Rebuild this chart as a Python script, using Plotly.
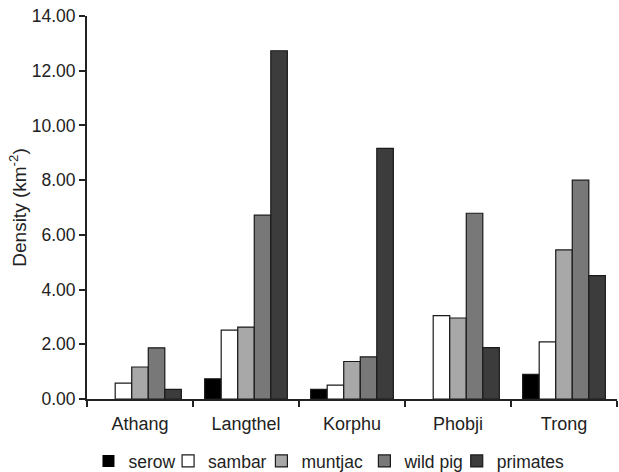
import plotly.graph_objects as go

sites = ["Athang", "Langthel", "Korphu", "Phobji", "Trong"]
serow = [0.0, 0.74, 0.35, 0.0, 0.90]
sambar = [0.58, 2.52, 0.51, 3.05, 2.09]
muntjac = [1.17, 2.63, 1.37, 2.96, 5.45]
wild_pig = [1.87, 6.72, 1.54, 6.79, 8.00]
primates = [0.35, 12.73, 9.16, 1.88, 4.51]

series = [
    ("serow", serow, "#000000"),
    ("sambar", sambar, "#ffffff"),
    ("muntjac", muntjac, "#a8a8a8"),
    ("wild pig", wild_pig, "#787878"),
    ("primates", primates, "#3c3c3c"),
]
# horizontal placement of each legend entry (paper fraction)
legend_x = [0.0028, 0.1530, 0.3291, 0.5234, 0.6976]

fig = go.Figure()
legend_ids = ["legend", "legend2", "legend3", "legend4", "legend5"]
for (name, vals, col), lid in zip(series, legend_ids):
    fig.add_trace(go.Bar(
        x=sites, y=vals, name=name, legend=lid,
        marker=dict(color=col,
                    line=dict(color="#1a1a1a", width=[1.2 if v > 0 else 0 for v in vals])),
    ))

fam = "Liberation Sans, Arial, sans-serif"
legends = {}
for lid, lx in zip(legend_ids, legend_x):
    legends[lid] = dict(orientation="h", x=lx, xanchor="left", y=-0.162, yanchor="middle",
                        itemwidth=30, font=dict(size=17.5), bgcolor="rgba(0,0,0,0)")

fig.update_layout(
    width=619, height=472,
    margin=dict(l=87, r=2, t=16, b=73, autoexpand=False),
    paper_bgcolor="white", plot_bgcolor="white",
    font=dict(family=fam, size=18, color="#222222"),
    barmode="group", bargap=0.22, bargroupgap=0,
    showlegend=True,
    xaxis=dict(showline=True, linecolor="#222", linewidth=2, ticks="outside",
               tickson="boundaries", ticklen=6, tickwidth=2, tickcolor="#222",
               showgrid=False, tickfont=dict(size=18), ticklabelstandoff=7),
    yaxis=dict(range=[0, 14], dtick=2, tickformat=".2f", showline=True,
               linecolor="#222", linewidth=2, ticks="outside", ticklen=6,
               tickwidth=2, tickcolor="#222", showgrid=False, zeroline=False,
               title=dict(text="Density (km<sup>-2</sup>)", font=dict(size=19), standoff=0),
               tickfont=dict(size=17.5)),
    **legends,
)
fig.write_html("out.html", config={"displayModeBar": False},
               post_script="document.body.style.margin='0px';")
